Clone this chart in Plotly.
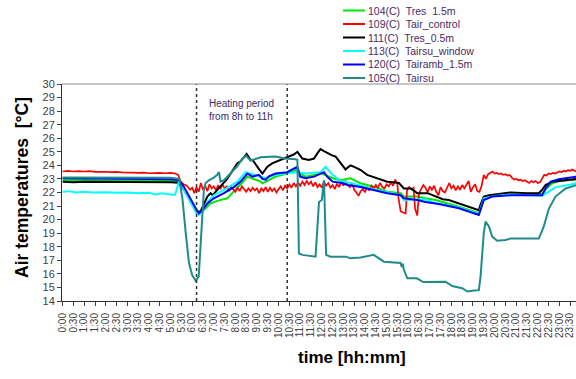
import plotly.graph_objects as go

# ---- time axis labels (every 30 min) ----
tick_hours = [0.0, 0.5, 1.0, 1.5, 2.0, 2.5, 3.0, 3.5, 4.0, 4.5, 5.0, 5.5,
              6.0, 6.5, 7.0, 7.5, 8.0, 8.5, 9.0, 9.5, 10.0, 10.5, 11.0, 11.5,
              12.0, 12.5, 13.0, 13.5, 14.0, 14.5, 15.0, 15.5, 16.0, 16.5, 17.0, 17.5,
              18.0, 18.5, 19.0, 19.5, 20.0, 20.5, 21.0, 21.5, 22.0, 22.5, 23.0, 23.5]
tick_labels = ["0:00", "0:30", "1:00", "1:30", "2:00", "2:30", "3:00", "3:30",
               "4:00", "4:30", "5:00", "5:30", "6:00", "6:30", "7:00", "7:30",
               "8:00", "8:30", "9:00", "9:30", "10:00", "10:30", "11:00", "11:30",
               "12:00", "12:30", "13:00", "13:30", "14:00", "14:30", "15:00", "15:30",
               "16:00", "16:30", "17:00", "17:30", "18:00", "18:30", "19:00", "19:30",
               "20:00", "20:30", "21:00", "21:30", "22:00", "22:30", "23:00", "23:30"]

# ---- 104(C) Tres 1.5m ----
t_104 = [0.0, 1.0, 2.0, 3.0, 4.0, 5.0, 5.39, 5.62, 5.93, 6.24, 6.31, 6.47, 6.85, 7.2,
         7.62, 8.09, 8.3, 8.55, 8.8, 9.17, 9.25, 9.5, 9.86, 10.4, 10.79, 10.95, 11.25,
         12.0, 12.5, 12.87, 13.33, 13.8, 14.4, 15.03, 15.65, 15.8, 16.42, 16.8, 17.27,
         18.35, 19.27, 19.35, 19.5, 20.0, 20.74, 22.2, 22.4, 22.67, 23.0, 23.8]
v_104 = [22.9, 22.92, 22.88, 22.9, 22.88, 22.87, 22.85, 22.35, 21.4, 20.55, 20.45, 20.6,
         21.2, 21.4, 21.57, 22.3, 22.7, 23.17, 23.0, 22.8, 22.68, 22.9, 23.17, 23.4,
         23.66, 23.4, 23.17, 23.4, 23.05, 22.9, 23.05, 22.68, 22.43, 22.06, 21.95, 21.7,
         21.7, 21.57, 21.45, 20.95, 20.47, 20.8, 21.55, 21.8, 21.9, 21.9, 22.3, 22.68,
         22.85, 22.97]

# ---- 109(C) Tair_control ----
t_109 = [0.0, 0.25, 0.5, 0.75, 1.0, 1.25, 1.5, 1.75, 2.0, 2.25, 2.5, 2.75, 3.0, 3.25,
         3.5, 3.75, 4.0, 4.25, 4.5, 4.75, 5.0, 5.2, 5.35, 5.45, 5.6, 5.75, 5.9, 6.0,
         6.1, 6.2, 6.3, 6.4, 6.5, 6.6, 6.7, 6.8, 6.9, 7.0, 7.1, 7.2, 7.3, 7.4, 7.5,
         7.6, 7.7, 7.8, 7.9, 8.0, 8.1, 8.2, 8.3, 8.4, 8.5, 8.6, 8.7, 8.8, 8.9, 9.0,
         9.1, 9.2, 9.3, 9.4, 9.5, 9.6, 9.7, 9.8, 9.9, 10.0, 10.1, 10.2, 10.3, 10.4,
         10.5, 10.6, 10.7, 10.8, 10.9, 11.0, 11.1, 11.2, 11.3, 11.4, 11.5, 11.6, 11.7,
         11.8, 11.9, 12.0, 12.1, 12.2, 12.3, 12.4, 12.5, 12.6, 12.7, 12.8, 12.9, 13.0,
         13.1, 13.2, 13.3, 13.4, 13.5, 13.6, 13.7, 13.8, 13.9, 14.0, 14.1, 14.2, 14.3,
         14.4, 14.5, 14.6, 14.7, 14.8, 14.9, 15.0, 15.1, 15.2, 15.3, 15.4, 15.5, 15.55,
         15.65, 15.8, 15.88, 15.95, 16.05, 16.15, 16.25, 16.32, 16.42, 16.5, 16.6, 16.7,
         16.8, 16.9, 17.0, 17.1, 17.2, 17.3, 17.4, 17.5, 17.6, 17.7, 17.8, 17.9, 18.0,
         18.1, 18.2, 18.3, 18.4, 18.5, 18.6, 18.7, 18.8, 18.9, 19.0, 19.1, 19.2, 19.3,
         19.4, 19.5, 19.6, 19.7, 19.8, 19.9, 20.0, 20.1, 20.2, 20.3, 20.4, 20.5, 20.6,
         20.7, 20.8, 20.9, 21.0, 21.1, 21.2, 21.3, 21.4, 21.5, 21.6, 21.7, 21.8, 21.9,
         22.0, 22.1, 22.2, 22.3, 22.4, 22.5, 22.6, 22.7, 22.8, 22.9, 23.0, 23.1, 23.2,
         23.3, 23.4, 23.5, 23.6, 23.7, 23.8]
v_109 = [23.55, 23.6, 23.55, 23.58, 23.55, 23.57, 23.52, 23.55, 23.53, 23.5, 23.52, 23.48,
         23.5, 23.47, 23.45, 23.47, 23.42, 23.44, 23.45, 23.42, 23.45, 23.4, 23.3, 22.85,
         22.6, 22.5, 22.2, 22.35, 21.95, 22.4, 22.05, 22.7, 22.2, 22.5, 22.1, 22.6, 22.3,
         22.45, 22.15, 22.55, 22.25, 22.6, 22.3, 22.45, 22.1, 22.4, 22.2, 22.05, 22.35,
         22.1, 22.45, 22.2, 22.05, 22.3, 22.1, 22.35, 22.15, 22.3, 21.95, 22.3, 22.1,
         22.4, 22.05, 22.35, 22.1, 22.3, 22.0, 22.25, 22.45, 22.15, 22.5, 22.3, 22.6,
         22.35, 22.7, 22.45, 22.75, 22.5, 22.8, 22.55, 22.85, 22.6, 22.8, 22.45, 22.75,
         22.4, 22.6, 22.35, 22.8, 22.5, 22.7, 22.35, 22.55, 22.25, 22.65, 22.4, 22.8,
         22.5, 22.85, 22.55, 22.4, 22.7, 22.2, 22.0, 21.75, 22.1, 22.25, 22.05, 22.4,
         22.15, 22.5, 22.3, 22.55, 22.35, 22.7, 22.4, 22.3, 22.6, 22.45, 22.75, 22.5,
         22.95, 22.6, 21.6, 20.6, 20.5, 20.45, 22.2, 22.4, 22.25, 22.35, 20.8, 20.3,
         21.95, 22.3, 22.55, 22.35, 22.0, 22.45, 22.2, 22.5, 22.05, 21.8, 22.4, 22.1,
         22.0, 22.35, 22.7, 22.3, 22.5, 22.15, 22.45, 22.2, 22.55, 22.3, 22.6, 22.85,
         22.05, 22.4, 22.6, 22.1, 22.05, 22.5, 23.3, 23.0, 23.35, 23.45, 23.55, 23.4,
         23.45, 23.35, 23.4, 23.3, 23.35, 23.25, 23.3, 23.1, 22.95, 23.0, 22.9, 22.95,
         22.85, 22.9, 22.8, 22.7, 22.85, 22.75, 22.85, 22.7, 22.75, 23.05, 23.3, 23.25,
         23.4, 23.35, 23.45, 23.4, 23.5, 23.55, 23.5, 23.6, 23.55, 23.65, 23.6, 23.7,
         23.6, 23.55]

# ---- 111(C) Tres_0.5m ----
t_111 = [0.0, 0.5, 1.0, 1.5, 2.0, 2.5, 3.0, 3.5, 4.0, 4.5, 5.0, 5.35, 5.5, 5.62, 5.8,
         5.93, 6.1, 6.24, 6.39, 6.54, 6.7, 6.85, 6.95, 7.16, 7.3, 7.47, 7.62, 7.78, 7.93,
         8.09, 8.24, 8.4, 8.52, 8.62, 8.7, 8.82, 8.94, 9.1, 9.25, 9.35, 9.48, 9.7, 9.94,
         10.17, 10.48, 10.7, 10.87, 11.0, 11.1, 11.4, 11.64, 11.8, 11.94, 12.1, 12.25,
         12.45, 12.64, 12.87, 13.0, 13.1, 13.2, 13.33, 13.55, 13.8, 14.1, 14.3, 14.57,
         14.8, 15.03, 15.3, 15.57, 15.8, 16.1, 16.3, 16.42, 16.9, 17.27, 17.6, 17.88,
         18.35, 18.81, 19.27, 19.35, 19.5, 19.74, 20.2, 20.74, 21.5, 22.05, 22.2, 22.36,
         22.67, 23.13, 23.8]
v_111 = [22.8, 22.75, 22.8, 22.8, 22.78, 22.8, 22.75, 22.75, 22.75, 22.75, 22.75, 22.72,
         22.45, 22.2, 21.7, 21.3, 20.9, 20.6, 20.62, 21.1, 21.7, 21.95, 21.8, 22.2, 22.45,
         22.7, 23.0, 23.4, 23.8, 24.15, 24.3, 24.6, 24.85, 24.6, 24.4, 24.35, 24.05, 23.7,
         23.4, 23.6, 23.9, 24.15, 24.3, 24.5, 24.65, 24.8, 25.0, 24.7, 24.5, 24.4, 24.5,
         24.9, 25.2, 25.05, 24.9, 24.75, 24.65, 24.15, 23.9, 23.7, 23.85, 24.0, 23.85,
         23.66, 23.3, 23.2, 23.05, 22.9, 22.8, 22.75, 22.7, 22.3, 22.3, 22.1, 21.95,
         21.95, 21.7, 21.5, 21.45, 21.2, 20.95, 20.7, 21.1, 21.7, 21.8, 21.9, 22.0, 21.95,
         21.95, 22.2, 22.55, 22.8, 22.9, 23.0]

# ---- 113(C) Tairsu_window ----
t_113 = [0.0, 0.3, 0.6, 1.0, 1.4, 2.0, 2.5, 3.0, 3.5, 4.0, 4.3, 4.6, 5.0, 5.2, 5.31,
         5.39, 5.62, 5.93, 6.2, 6.31, 6.5, 6.7, 7.0, 7.47, 8.09, 8.47, 8.86, 9.4, 9.86,
         10.79, 11.25, 11.94, 12.17, 12.5, 12.87, 13.33, 14.4, 15.03, 15.65, 15.8, 16.42,
         16.8, 17.27, 18.35, 19.27, 19.5, 20.0, 20.74, 22.2, 22.82, 23.8]
v_113 = [22.05, 22.1, 22.0, 22.05, 22.0, 22.02, 21.98, 22.0, 21.95, 21.98, 21.85, 21.95,
         21.85, 21.82, 22.4, 22.85, 22.2, 21.2, 20.45, 20.34, 20.7, 21.3, 21.8, 22.2,
         22.8, 23.5, 23.3, 23.05, 23.3, 23.5, 23.4, 23.5, 23.9, 23.3, 22.85, 22.7, 22.24,
         21.99, 21.8, 21.45, 21.5, 21.5, 21.2, 20.9, 20.4, 21.57, 21.75, 21.85, 21.77,
         22.38, 22.68]

# ---- 120(C) Tairamb_1.5m ----
t_120 = [0.0, 1.0, 2.0, 3.0, 4.0, 5.0, 5.39, 5.62, 5.93, 6.1, 6.24, 6.31, 6.47, 6.7,
         7.0, 7.47, 7.93, 8.24, 8.4, 8.55, 8.78, 9.09, 9.25, 9.4, 9.55, 9.86, 10.4,
         10.79, 10.87, 11.0, 11.25, 11.64, 11.94, 12.1, 12.25, 12.5, 12.95, 13.18, 13.8,
         14.4, 15.03, 15.65, 15.8, 16.42, 16.8, 17.42, 18.35, 19.27, 19.35, 19.5, 19.89,
         20.74, 22.2, 22.36, 22.6, 22.98, 23.8]
v_120 = [23.05, 23.05, 23.02, 23.0, 23.0, 22.98, 22.9, 22.4, 21.45, 21.0, 20.6, 20.47,
         20.7, 21.2, 21.57, 21.95, 22.4, 22.8, 23.1, 23.4, 23.17, 23.3, 23.0, 22.95,
         23.2, 23.4, 23.5, 23.8, 23.9, 23.17, 23.05, 23.17, 23.4, 23.5, 23.17, 22.8,
         22.7, 22.55, 22.4, 22.2, 21.95, 21.8, 21.57, 21.45, 21.3, 21.15, 20.84, 20.34,
         20.7, 21.45, 21.7, 21.8, 21.8, 22.3, 22.8, 22.97, 23.17]

# ---- 105(C) Tairsu ----
t_105 = [0.0, 1.0, 2.0, 3.0, 4.0, 5.0, 5.4, 5.55, 5.7, 5.85, 6.0, 6.16, 6.3, 6.4, 6.54,
         6.62, 6.77, 7.0, 7.16, 7.24, 7.31, 7.47, 7.7, 8.09, 8.32, 8.5, 8.7, 9.0, 9.17,
         9.86, 10.3, 10.79, 10.87, 10.94, 11.1, 11.71, 11.79, 11.87, 12.0, 12.1, 12.2,
         12.4, 13.1, 13.33, 13.8, 14.4, 14.88, 15.65, 15.7, 15.75, 15.8, 15.96, 16.4,
         16.7, 17.73, 18.04, 18.5, 18.74, 19.04, 19.27, 19.35, 19.5, 19.58, 19.74, 19.89,
         20.12, 20.5, 20.74, 22.05, 22.28, 22.51, 22.82, 23.29, 23.8]
v_105 = [23.1, 23.1, 23.12, 23.1, 23.1, 23.08, 23.0, 21.5, 19.0, 16.8, 15.9, 15.5, 15.8,
         18.5, 22.2, 22.7, 22.9, 23.1, 23.3, 23.5, 22.8, 22.9, 23.3, 23.95, 24.5, 24.7,
         24.35, 24.5, 24.6, 24.65, 24.5, 24.45, 24.4, 17.5, 17.4, 17.27, 19.2, 21.3,
         21.45, 22.9, 17.4, 17.27, 17.27, 17.15, 17.2, 17.4, 16.9, 16.8, 16.5, 16.75,
         16.3, 15.67, 15.67, 15.4, 15.42, 15.1, 14.94, 14.7, 14.77, 14.8, 15.8, 19.0,
         19.85, 19.5, 18.75, 18.45, 18.5, 18.6, 18.6, 19.5, 20.8, 21.7, 22.3, 22.55]

series = [
    ("104(C)\u00a0 Tres\u00a0 1.5m", t_104, v_104, "#00e600", 2.0),
    ("109(C)\u00a0 Tair_control", t_109, v_109, "#ff0000", 1.7),
    ("111(C)\u00a0 Tres_0.5m", t_111, v_111, "#000000", 2.0),
    ("113(C)\u00a0 Tairsu_window", t_113, v_113, "#00ffff", 2.0),
    ("120(C)\u00a0 Tairamb_1.5m", t_120, v_120, "#0000ff", 2.0),
    ("105(C)\u00a0 Tairsu", t_105, v_105, "#208b8b", 2.0),
]

heating_marks = [6.2, 10.4]

fig = go.Figure()
for name, t, v, color, width in series:
    fig.add_trace(go.Scatter(x=t, y=v, mode="lines", name=name,
                             line=dict(color=color, width=width),
                             showlegend=False))

# compact legend drawn in paper coordinates above the plot
W, H = 576, 379
ML, MR, MT, MB = 62, 0, 84, 78
pw, ph = W - ML - MR, H - MT - MB
def px(x):
    return (x - ML) / pw
def py(y):
    return (H - MB - y) / ph

shapes = []
annotations = []
for i, (name, t, v, color, width) in enumerate(series):
    yc = 10.5 + i * 13.5
    shapes.append(dict(type="line", xref="paper", yref="paper",
                       x0=px(343), x1=px(365), y0=py(yc), y1=py(yc),
                       line=dict(color=color, width=2)))
    annotations.append(dict(text=name, xref="paper", yref="paper",
                            x=px(366), y=py(yc), xanchor="left", yanchor="middle",
                            showarrow=False,
                            font=dict(family="Liberation Sans, Arial", size=10.5,
                                      color="#4a2a66")))

for xm in heating_marks:
    shapes.append(dict(type="line", xref="x", yref="paper", x0=xm, x1=xm, y0=0, y1=1,
                       line=dict(color="#333333", width=1.5, dash="dot")))

# top border of the plot area
shapes.append(dict(type="line", xref="paper", yref="paper", x0=0, x1=1, y0=1, y1=1,
                   line=dict(color="#8c8c8c", width=1)))

annotations.append(dict(text="Heating period<br>from 8h to 11h", x=6.7, y=28.05,
                        xref="x", yref="y", xanchor="left", yanchor="middle",
                        align="left", showarrow=False,
                        font=dict(family="Liberation Sans, Arial", size=10,
                                  color="#3a2a6a")))

annotations.append(dict(text="<b>Air temperatures  [°C]</b>", xref="paper", yref="paper",
                        x=px(22), y=py(188), textangle=-90, showarrow=False,
                        xanchor="center", yanchor="middle",
                        font=dict(family="Liberation Sans, Arial", size=17.5, color="#000000")))
annotations.append(dict(text="<b>time [hh:mm]</b>", xref="paper", yref="paper",
                        x=px(352), y=py(357), showarrow=False,
                        xanchor="center", yanchor="middle",
                        font=dict(family="Liberation Sans, Arial", size=17, color="#000000")))

fig.update_layout(
    width=W, height=H,
    margin=dict(l=ML, r=MR, t=MT, b=MB, pad=0),
    paper_bgcolor="white", plot_bgcolor="white",
    shapes=shapes, annotations=annotations,
    font=dict(family="Liberation Sans, Arial", color="#404040"),
)
fig.update_xaxes(range=[-0.03, 23.77], tickmode="array", tickvals=tick_hours,
                 ticktext=tick_labels, tickangle=-90, ticks="outside", ticklen=4,
                 tickcolor="#404040", showline=True, linecolor="#303030", linewidth=1,
                 showgrid=False, zeroline=False, ticklabelstandoff=3,
                 tickfont=dict(size=10, color="#404040"))
fig.update_yaxes(range=[14, 30], dtick=1, ticks="outside", ticklen=4,
                 tickcolor="#404040", showline=True, linecolor="#303030", linewidth=1,
                 showgrid=False, zeroline=False,
                 tickfont=dict(size=11, color="#404040"))

fig.write_html("out.html")
